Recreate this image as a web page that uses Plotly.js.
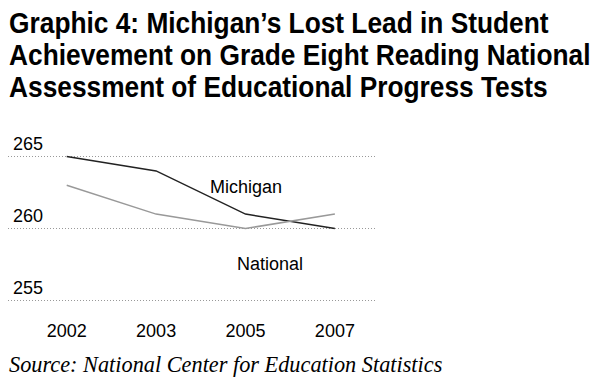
<!DOCTYPE html>
<html>
<head>
<meta charset="utf-8">
<script src="https://cdn.plot.ly/plotly-3.0.1.min.js"></script>
<style>html,body{margin:0;padding:0;background:#fff;}#chart{width:600px;height:380px;}</style>
</head>
<body>
<div id="chart"></div>
<script>
var years = ["2002", "2003", "2005", "2007"];
var michigan = [265, 264, 261, 260];
var national = [263, 261, 260, 261];
var yTicks = [255, 260, 265];
var titleLines = [
  "Graphic 4: Michigan\u2019s Lost Lead in Student",
  "Achievement on Grade Eight Reading National",
  "Assessment of Educational Progress Tests"
];
var sourceText = "Source: National Center for Education Statistics";

var titleFont = {family: "Liberation Sans, Arial, sans-serif", size: 26.3, color: "#000", weight: "bold"};
var titleStretch = 1.14;
var plotTop = 140, plotBottom = 310;
function py(p) { return (plotBottom - p) / (plotBottom - plotTop); }

var annotations = [];
var titleCenters = [22.5, 54.5, 87];
titleLines.forEach(function (t, i) {
  annotations.push({
    text: t, xref: "paper", yref: "paper",
    x: 0, xanchor: "left", xshift: -1, y: py(titleCenters[i]), yanchor: "middle",
    showarrow: false, font: titleFont
  });
});
annotations.push({
  text: "Michigan", xref: "x", yref: "y", x: 2, y: 262.9,
  showarrow: false, font: {family: "Liberation Sans, Arial, sans-serif", size: 18, color: "#000"}
});
annotations.push({
  text: "National", xref: "x", yref: "y", x: 2.27, y: 257.55,
  showarrow: false, font: {family: "Liberation Sans, Arial, sans-serif", size: 18, color: "#000"}
});
annotations.push({
  text: sourceText, xref: "paper", yref: "paper",
  x: 0, xanchor: "left", xshift: -1, y: py(364), yanchor: "middle",
  showarrow: false, font: {family: "Liberation Serif, DejaVu Serif, serif", size: 22.3, color: "#000", style: "italic"}
});

var traces = [
  {x: years, y: michigan, type: "scatter", mode: "lines", name: "Michigan",
   line: {color: "#222", width: 1.5}, hoverinfo: "skip"},
  {x: years, y: national, type: "scatter", mode: "lines", name: "National",
   line: {color: "#999", width: 1.5}, hoverinfo: "skip"}
];

var layout = {
  width: 600, height: 380,
  margin: {l: 8, r: 224, t: plotTop, b: 380 - plotBottom, pad: 0},
  paper_bgcolor: "#fff", plot_bgcolor: "#fff",
  showlegend: false,
  xaxis: {
    type: "category", range: [-0.657, 3.46], showgrid: false, zeroline: false, showline: false,
    ticks: "", tickfont: {family: "Liberation Sans, Arial, sans-serif", size: 18, color: "#000"},
    ticklabelstandoff: 8, fixedrange: true
  },
  yaxis: {
    range: [254.34, 266.146], tickvals: yTicks, ticktext: yTicks.map(String),
    showgrid: true, gridcolor: "#999", gridwidth: 1.5, griddash: "1px,2px",
    zeroline: false, showline: false, ticks: "",
    ticklabelposition: "inside top", ticklabeloverflow: "allow", ticklabelstandoff: 2,
    tickfont: {family: "Liberation Sans, Arial, sans-serif", size: 18, color: "#000"},
    fixedrange: true
  },
  annotations: annotations
};

Plotly.newPlot("chart", traces, layout, {displayModeBar: false, staticPlot: true}).then(function (gd) {
  // stretch the bold title lines vertically to imitate the reference's tall condensed typeface
  var texts = gd.querySelectorAll(".annotation .annotation-text");
  for (var i = 0; i < titleLines.length && i < texts.length; i++) {
    var el = texts[i];
    var bb = el.getBBox();
    var cy = bb.y + bb.height / 2;
    el.setAttribute("transform", "translate(0," + cy + ") scale(1," + titleStretch + ") translate(0," + (-cy) + ")");
  }
});
</script>
</body>
</html>
